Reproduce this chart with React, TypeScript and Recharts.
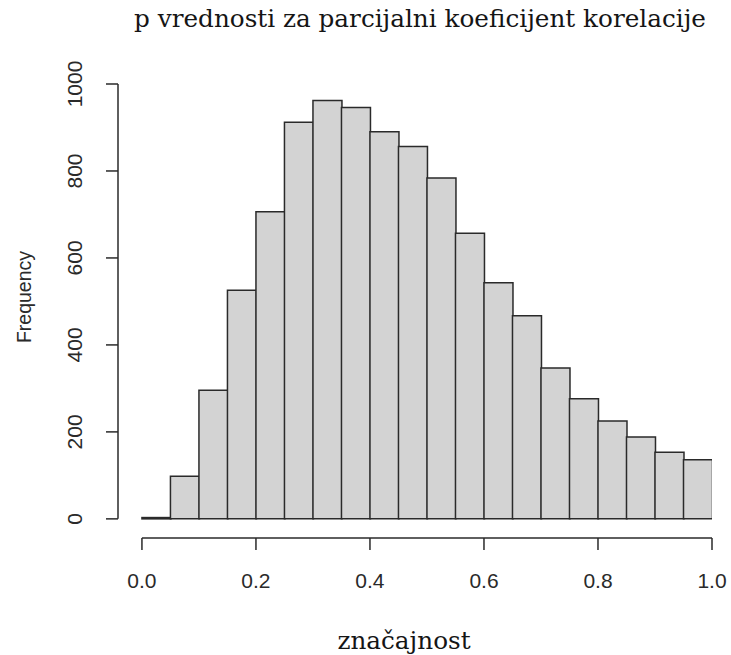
import React from "react";
import {
  ComposedChart,
  Bar,
  XAxis,
  YAxis,
  ReferenceLine,
} from "recharts";

// Histogram bins of p-values (width 0.05 on [0, 1])
const binLower = [0, 0.05, 0.1, 0.15, 0.2, 0.25, 0.3, 0.35, 0.4, 0.45, 0.5, 0.55, 0.6, 0.65, 0.7, 0.75, 0.8, 0.85, 0.9, 0.95];
const binUpper = [0.05, 0.1, 0.15, 0.2, 0.25, 0.3, 0.35, 0.4, 0.45, 0.5, 0.55, 0.6, 0.65, 0.7, 0.75, 0.8, 0.85, 0.9, 0.95, 1.0];
const frequency = [3, 98, 296, 526, 706, 912, 962, 946, 890, 856, 784, 657, 543, 467, 347, 276, 225, 188, 153, 136];

const xTicks = [0, 0.2, 0.4, 0.6, 0.8, 1.0];
const yTicks = [0, 200, 400, 600, 800, 1000];

const title = "p vrednosti za parcijalni koeficijent korelacije";
const xLabel = "značajnost";
const yLabel = "Frequency";

// Detached R-style axes: the plot region extends a little past the data range
const X_LEFT = -0.042;
const Y_BOTTOM = -44;

const data = binLower.map((lo, i) => ({
  mid: (lo + binUpper[i]) / 2,
  count: frequency[i],
}));

const INK = "#2a2a2a";
const SANS = "'Liberation Sans', Arial, sans-serif";
const SERIF = "'DejaVu Serif', serif";

const YTick = (props: any) => {
  const { x, y, payload } = props;
  return (
    <text
      transform={`translate(${x},${y}) rotate(-90)`}
      textAnchor="middle"
      fontFamily={SANS}
      fontSize={21}
      fill={INK}
    >
      {payload.value}
    </text>
  );
};

const XTick = (props: any) => {
  const { x, y, payload } = props;
  return (
    <text
      x={x}
      y={y}
      dy={26}
      textAnchor="middle"
      fontFamily={SANS}
      fontSize={21}
      fill={INK}
    >
      {Number(payload.value).toFixed(1)}
    </text>
  );
};

export default function App() {
  return (
    <div style={{ position: "absolute", left: 0, top: 0, width: 731, height: 655, background: "#fff", overflow: "hidden" }}>
      <div
        style={{
          position: "absolute",
          left: 110,
          top: 4,
          width: 620,
          textAlign: "center",
          fontFamily: SERIF,
          fontSize: 24.7,
          lineHeight: "30px",
          color: "#151515",
          whiteSpace: "nowrap",
        }}
      >
        {title}
      </div>
      <div
        style={{
          position: "absolute",
          left: 304,
          top: 626,
          width: 200,
          textAlign: "center",
          fontFamily: SERIF,
          fontSize: 24.7,
          lineHeight: "30px",
          color: "#151515",
        }}
      >
        {xLabel}
      </div>
      <div
        style={{
          position: "absolute",
          left: -26,
          top: 285,
          width: 100,
          textAlign: "center",
          transform: "rotate(-90deg)",
          fontFamily: SANS,
          fontSize: 19.5,
          lineHeight: "24px",
          color: INK,
        }}
      >
        {yLabel}
      </div>
      <ComposedChart
        width={731}
        height={655}
        data={data}
        margin={{ top: 84, right: 19, bottom: 57, left: 58 }}
        barCategoryGap={0}
        barGap={0}
      >
        <XAxis
          dataKey="mid"
          type="number"
          domain={[X_LEFT, 1]}
          allowDataOverflow
          ticks={xTicks}
          tick={<XTick />}
          axisLine={false}
          tickLine={{ stroke: INK, strokeWidth: 1.5 }}
          tickSize={12}
          tickMargin={12}
          height={60}
          interval={0}
        />
        <YAxis
          type="number"
          domain={[Y_BOTTOM, 1000]}
          allowDataOverflow
          ticks={yTicks}
          tick={<YTick />}
          axisLine={false}
          tickLine={{ stroke: INK, strokeWidth: 1.5 }}
          tickSize={12}
          tickMargin={24}
          width={60}
          interval={0}
        />
        <Bar
          dataKey="count"
          fill="#d3d3d3"
          stroke={INK}
          strokeWidth={1.5}
          isAnimationActive={false}
        />
        <ReferenceLine
          segment={[{ x: 0, y: Y_BOTTOM }, { x: 1, y: Y_BOTTOM }]}
          stroke={INK}
          strokeWidth={1.5}
          ifOverflow="visible"
        />
        <ReferenceLine
          segment={[{ x: X_LEFT, y: 0 }, { x: X_LEFT, y: 1000 }]}
          stroke={INK}
          strokeWidth={1.5}
          ifOverflow="visible"
        />
      </ComposedChart>
    </div>
  );
}
